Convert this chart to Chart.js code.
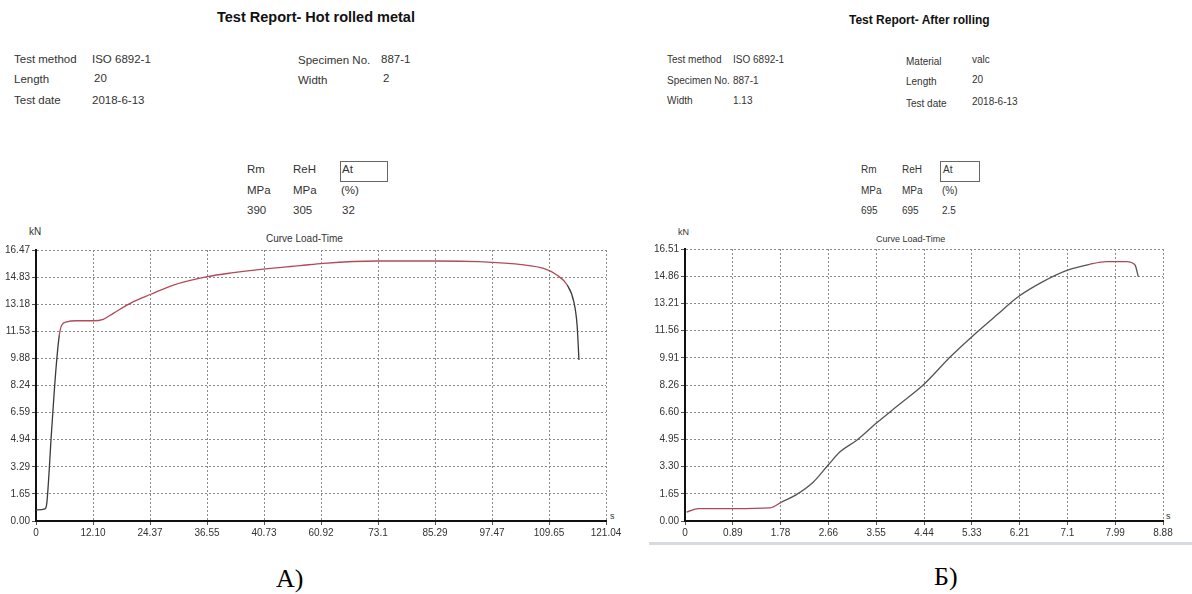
<!DOCTYPE html>
<html>
<head>
<meta charset="utf-8">
<script src="https://cdn.jsdelivr.net/npm/chart.js@4.4.1/dist/chart.umd.min.js"></script>
<style>
  body { margin: 0; background: #fff; }
  #page { position: relative; width: 1192px; height: 594px; overflow: hidden; font-family: Arial, "Liberation Sans", sans-serif; color: #333; }
  .t { position: absolute; white-space: nowrap; line-height: 1; font-size: 11.5px; }
  .r { font-size: 10px; }
  .h { font-weight: bold; color: #111; }
  .box { position: absolute; border: 1px solid #666; }
  .cap { position: absolute; font-family: "Liberation Serif", "Times New Roman", serif; font-size: 26px; color: #000; line-height: 1; }
  canvas { position: absolute; }
</style>
</head>
<body>
<div id="page">
  <!-- left report header -->
  <div class="t h" style="left:217px;top:10px;font-size:14.5px">Test Report- Hot rolled metal</div>
  <div class="t" style="left:14px;top:54px">Test method</div>
  <div class="t" style="left:92px;top:54px">ISO 6892-1</div>
  <div class="t" style="left:14px;top:74px">Length</div>
  <div class="t" style="left:94px;top:73px">20</div>
  <div class="t" style="left:14px;top:95px">Test date</div>
  <div class="t" style="left:92px;top:95px">2018-6-13</div>
  <div class="t" style="left:298px;top:55px">Specimen No.</div>
  <div class="t" style="left:381px;top:54px">887-1</div>
  <div class="t" style="left:298px;top:75px">Width</div>
  <div class="t" style="left:383px;top:73px">2</div>
  <div class="t" style="left:247px;top:164px">Rm</div>
  <div class="t" style="left:293px;top:164px">ReH</div>
  <div class="box" style="left:340px;top:161px;width:46px;height:19px"></div>
  <div class="t" style="left:342px;top:164px">At</div>
  <div class="t" style="left:247px;top:185px">MPa</div>
  <div class="t" style="left:293px;top:185px">MPa</div>
  <div class="t" style="left:341px;top:185px">(%)</div>
  <div class="t" style="left:247px;top:205px">390</div>
  <div class="t" style="left:293px;top:205px">305</div>
  <div class="t" style="left:342px;top:205px">32</div>
  <div class="t" style="left:29px;top:227px;font-size:10px">kN</div>
  <div class="t" style="left:266px;top:234px;font-size:10px">Curve Load-Time</div>
  <div class="t" style="left:610px;top:512px;font-size:9px">s</div>

  <!-- right report header -->
  <div class="t h" style="left:849px;top:14px;font-size:12px">Test Report- After rolling</div>
  <div class="t r" style="left:667px;top:55px">Test method</div>
  <div class="t r" style="left:733px;top:55px">ISO 6892-1</div>
  <div class="t r" style="left:667px;top:76px">Specimen No.</div>
  <div class="t r" style="left:733px;top:76px">887-1</div>
  <div class="t r" style="left:667px;top:96px">Width</div>
  <div class="t r" style="left:733px;top:96px">1.13</div>
  <div class="t r" style="left:906px;top:57px">Material</div>
  <div class="t r" style="left:972px;top:55px">valc</div>
  <div class="t r" style="left:906px;top:77px">Length</div>
  <div class="t r" style="left:972px;top:75px">20</div>
  <div class="t r" style="left:906px;top:99px">Test date</div>
  <div class="t r" style="left:972px;top:97px">2018-6-13</div>
  <div class="t r" style="left:861px;top:165px">Rm</div>
  <div class="t r" style="left:902px;top:165px">ReH</div>
  <div class="box" style="left:940px;top:161px;width:38px;height:19px"></div>
  <div class="t r" style="left:943px;top:165px">At</div>
  <div class="t r" style="left:861px;top:186px">MPa</div>
  <div class="t r" style="left:902px;top:186px">MPa</div>
  <div class="t r" style="left:942px;top:186px">(%)</div>
  <div class="t r" style="left:861px;top:206px">695</div>
  <div class="t r" style="left:902px;top:206px">695</div>
  <div class="t r" style="left:942px;top:206px">2.5</div>
  <div class="t r" style="left:678px;top:228px;font-size:9px">kN</div>
  <div class="t r" style="left:876px;top:235px;font-size:9px">Curve Load-Time</div>
  <div class="t r" style="left:1166px;top:512px;font-size:9px">s</div>
  <div style="position:absolute;left:649px;top:542px;width:543px;height:3px;background:#d6dbe2"></div>

  <canvas id="left" style="left:0;top:225px"></canvas>
  <canvas id="right" style="left:640px;top:225px"></canvas>

  <div class="cap" style="left:276px;top:566px">A)</div>
  <div class="cap" style="left:934px;top:564px">Б)</div>
</div>

<script>
// hot rolled metal, load (kN) vs time (s)
var leftTime = [0, 1.9, 2.3, 3.3, 4.25, 4.95, 5.45, 6.5, 8.6, 12.1, 14.3, 16.4, 20.7, 24.4, 29.2, 36.4, 41.9, 48.3, 56.1, 61.1, 72.4, 84.9, 94.0, 103.6, 107.8, 110.6, 112.8, 114.2, 114.9, 115.3];
var leftLoad = [0.67, 0.73, 1.1, 5.43, 9.28, 11.3, 11.9, 12.1, 12.17, 12.17, 12.26, 12.62, 13.33, 13.78, 14.34, 14.85, 15.09, 15.31, 15.52, 15.66, 15.8, 15.8, 15.76, 15.56, 15.35, 14.95, 14.34, 13.33, 11.91, 9.78];
var leftXTicks = ['0', '12.10', '24.37', '36.55', '40.73', '60.92', '73.1', '85.29', '97.47', '109.65', '121.04'];
var leftYTicks = ['0.00', '1.65', '3.29', '4.94', '6.59', '8.24', '9.88', '11.53', '13.18', '14.83', '16.47'];

// after rolling
var rightTime = [0.03, 0.25, 0.9, 1.58, 1.8, 2.07, 2.38, 2.66, 2.88, 3.19, 3.55, 3.99, 4.44, 4.93, 5.33, 5.79, 6.19, 6.65, 7.12, 7.52, 7.83, 8.2, 8.36, 8.42];
var rightLoad = [0.54, 0.75, 0.75, 0.8, 1.16, 1.6, 2.35, 3.4, 4.2, 4.9, 5.93, 7.1, 8.3, 9.97, 11.19, 12.5, 13.61, 14.53, 15.24, 15.58, 15.74, 15.74, 15.54, 14.83];
var rightXTicks = ['0', '0.89', '1.78', '2.66', '3.55', '4.44', '5.33', '6.21', '7.1', '7.99', '8.88'];
var rightYTicks = ['0.00', '1.65', '3.30', '4.95', '6.60', '8.26', '9.91', '11.56', '13.21', '14.86', '16.51'];

function makeChart(id, w, h, xs, ys, xLabels, yLabels, yWidth, pad, segColor) {
  var cv = document.getElementById(id);
  cv.width = w; cv.height = h;
  cv.style.width = w + 'px'; cv.style.height = h + 'px';
  var xMax = parseFloat(xLabels[xLabels.length - 1]);
  var yMax = parseFloat(yLabels[yLabels.length - 1]);
  var pts = xs.map(function (x, i) { return {x: x, y: ys[i]}; });
  var grid = {color: '#8a8a8a', lineWidth: 1, tickLength: 4, tickColor: '#555'};
  var tickFont = {family: 'Arial, "Liberation Sans"', size: 10};
  return new Chart(cv, {
    type: 'line',
    data: {
      datasets: [{
        data: pts,
        borderColor: '#444',
        borderWidth: 1.3,
        pointRadius: 0,
        cubicInterpolationMode: 'monotone',
        segment: {borderColor: function (c) { return segColor(c.p0.parsed.x); }}
      }]
    },
    options: {
      responsive: false,
      animation: false,
      layout: {padding: pad},
      plugins: {legend: {display: false}, tooltip: {enabled: false}},
      scales: {
        x: {
          type: 'linear', min: 0, max: xMax,
          afterBuildTicks: function (s) {
            s.ticks = xLabels.map(function (_, i) { return {value: i * xMax / 10}; });
          },
          afterFit: function (s) { s.height = 20; },
          ticks: {autoSkip: false, maxRotation: 0, color: '#333', font: tickFont, padding: 2,
            callback: function (v, i) { return xLabels[i]; }},
          grid: grid,
          border: {display: true, color: '#111', width: 2, dash: [2, 2]}
        },
        y: {
          type: 'linear', min: 0, max: yMax,
          afterBuildTicks: function (s) {
            s.ticks = yLabels.map(function (_, i) { return {value: i * yMax / 10}; });
          },
          afterFit: function (s) { s.width = yWidth; },
          ticks: {autoSkip: false, color: '#333', font: tickFont, padding: 2,
            callback: function (v, i) { return yLabels[i]; }},
          grid: grid,
          border: {display: true, color: '#111', width: 2, dash: [2, 2]}
        }
      }
    }
  });
}

makeChart('left', 640, 320, leftTime, leftLoad, leftXTicks, leftYTicks, 36,
  {left: 0, right: 34, top: 25, bottom: 4},
  function (x) { return (x < 4.5 || x > 111) ? '#3a3a3a' : '#b24a5a'; });

makeChart('right', 552, 320, rightTime, rightLoad, rightXTicks, rightYTicks, 45,
  {left: 0, right: 29, top: 24, bottom: 4},
  function (x) { return (x < 1.6 || (x > 7.5 && x < 8.3)) ? '#a84a55' : '#555'; });
</script>
</body>
</html>
